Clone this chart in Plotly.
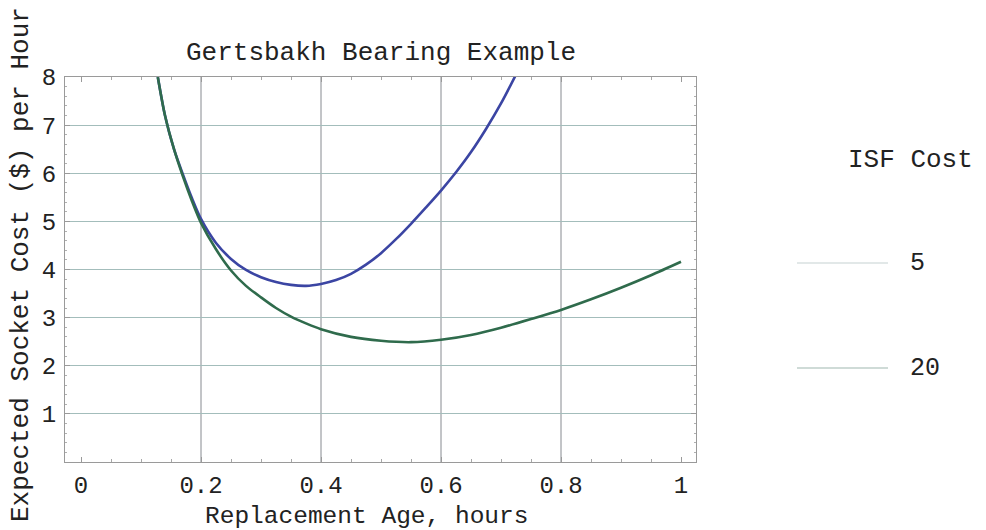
import plotly.graph_objects as go

# Replacement age (hours) and expected socket cost per hour, per ISF cost
age_isf20 = [0.128, 0.14, 0.155, 0.17, 0.185, 0.2, 0.225, 0.25, 0.275, 0.3,
             0.325, 0.35, 0.375, 0.4, 0.425, 0.45, 0.475, 0.5, 0.525, 0.55,
             0.575, 0.6, 0.625, 0.65, 0.675, 0.7, 0.725]
cost_isf20 = [8.0, 7.2, 6.5, 5.97, 5.48, 5.05, 4.55, 4.22, 3.99, 3.84,
              3.74, 3.68, 3.66, 3.70, 3.78, 3.91, 4.10, 4.34, 4.63, 4.95,
              5.29, 5.64, 6.02, 6.44, 6.92, 7.45, 8.05]

age_isf5 = [0.128, 0.14, 0.155, 0.17, 0.185, 0.2, 0.225, 0.25, 0.275, 0.3,
            0.325, 0.35, 0.375, 0.4, 0.45, 0.5, 0.55, 0.6, 0.65, 0.7,
            0.75, 0.8, 0.85, 0.9, 0.95, 1.0]
cost_isf5 = [8.0, 7.2, 6.5, 5.93, 5.42, 4.97, 4.42, 3.98, 3.66, 3.42,
             3.2, 3.02, 2.88, 2.76, 2.60, 2.52, 2.49, 2.54, 2.64, 2.79,
             2.97, 3.16, 3.38, 3.62, 3.88, 4.16]

x_tick_vals = [0, 0.2, 0.4, 0.6, 0.8, 1]
x_tick_text = ["0", "0.2", "0.4", "0.6", "0.8", "1"]
y_tick_vals = [1, 2, 3, 4, 5, 6, 7, 8]
x_grid = [0.2, 0.4, 0.6, 0.8]
legend_labels = ["5", "20"]

FONT = "Liberation Mono, Courier New, monospace"
W, H = 986, 530
L, R, T, B = 65, 696, 77, 462


def px(x):
    return (x - L) / (R - L)


def py(y):
    return (B - y) / (B - T)


fig = go.Figure()
fig.add_trace(go.Scatter(x=age_isf20, y=cost_isf20, mode="lines",
                         line=dict(color="#3b45a3", width=2.6, shape="spline", smoothing=0.8),
                         name="20", showlegend=False))
fig.add_trace(go.Scatter(x=age_isf5, y=cost_isf5, mode="lines",
                         line=dict(color="#2f6b4c", width=2.6, shape="spline", smoothing=0.8),
                         name="5", showlegend=False))

shapes = []
for gx in x_grid:
    shapes.append(dict(type="line", xref="x", yref="paper", x0=gx, x1=gx, y0=0, y1=1,
                       line=dict(color="#868a90", width=1), layer="below"))

annotations = [
    dict(text="Gertsbakh Bearing Example", xref="paper", yref="paper",
         x=0.5, y=py(53), xanchor="center", yanchor="middle", showarrow=False,
         font=dict(family=FONT, size=26, color="#222")),
    dict(text="Replacement Age, hours", xref="paper", yref="paper",
         x=px(366), y=py(516), xanchor="center", yanchor="middle", showarrow=False,
         font=dict(family=FONT, size=24.5, color="#222")),
    dict(text="Expected Socket Cost ($) per Hour", xref="paper", yref="paper",
         x=px(21), y=py(265), xanchor="center", yanchor="middle", showarrow=False,
         textangle=-90, font=dict(family=FONT, size=26, color="#222")),
    dict(text="ISF Cost", xref="paper", yref="paper",
         x=px(846), y=py(160), xanchor="left", yanchor="middle", showarrow=False,
         font=dict(family=FONT, size=26, color="#222")),
]

legend_rows = [263, 368]
legend_colors = ["#c5d2d2", "#9fb7b0"]
for label, ry, lc in zip(legend_labels, legend_rows, legend_colors):
    shapes.append(dict(type="line", xref="paper", yref="paper",
                       x0=px(797), x1=px(888), y0=py(ry), y1=py(ry),
                       line=dict(color=lc, width=1.2)))
    annotations.append(dict(text=label, xref="paper", yref="paper",
                            x=px(908), y=py(ry), xanchor="left", yanchor="middle",
                            showarrow=False, font=dict(family=FONT, size=25, color="#222")))

fig.update_layout(
    width=W, height=H,
    margin=dict(l=L, r=W - R, t=T, b=H - B, pad=0),
    paper_bgcolor="white", plot_bgcolor="white",
    font=dict(family=FONT, size=24, color="#222"),
    shapes=shapes, annotations=annotations,
    showlegend=False,
)
fig.update_xaxes(
    range=[-16 / 600, 1 + 15 / 600], tickvals=x_tick_vals, ticktext=x_tick_text,
    showgrid=False, zeroline=False,
    showline=True, linecolor="#9a9a9a", linewidth=1, mirror="allticks",
    ticks="inside", ticklen=5, tickcolor="#9a9a9a",
    minor=dict(dtick=0.05, tick0=0, ticks="inside", ticklen=3, tickcolor="#a8a8a8"),
    ticklabelstandoff=1, tickfont=dict(family=FONT, size=24, color="#222"),
)
fig.update_yaxes(
    range=[0, 8], tickvals=y_tick_vals,
    showgrid=True, gridcolor="#a3bdbb", gridwidth=1, zeroline=False,
    showline=True, linecolor="#9a9a9a", linewidth=1, mirror="allticks",
    ticks="inside", ticklen=5, tickcolor="#9a9a9a",
    minor=dict(dtick=0.2, tick0=0, ticks="inside", ticklen=2, tickcolor="#b0b0b0"),
    ticklabelstandoff=3, tickfont=dict(family=FONT, size=24, color="#222"),
)

fig.write_html("out.html")
